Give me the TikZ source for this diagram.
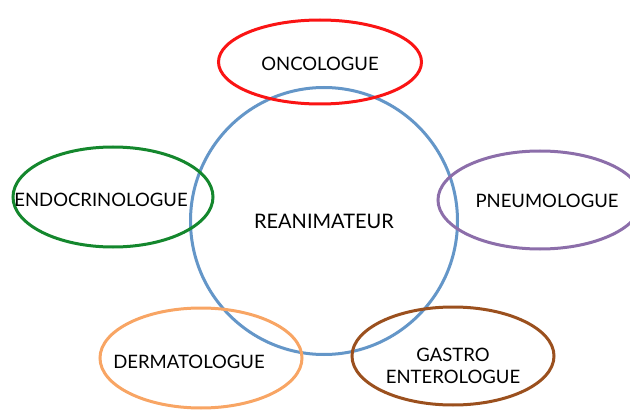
\documentclass[tikz,border=0pt]{standalone}
\usepackage{fontspec}
\setmainfont{Lato}
\usetikzlibrary{positioning,shapes.geometric}

\definecolor{reablue}{RGB}{100,150,200}
\definecolor{oncored}{RGB}{250,20,20}
\definecolor{endogreen}{RGB}{20,135,45}
\definecolor{pneupurple}{RGB}{140,110,170}
\definecolor{dermorange}{RGB}{248,165,100}
\definecolor{gastrobrown}{RGB}{155,80,30}

\begin{document}
\begin{tikzpicture}[
  x=1pt,y=-1pt,
  spec/.style={draw,ellipse,line width=3pt,minimum width=200pt,minimum height=100pt,
    inner sep=0pt},
  spectext/.style={font=\fontsize{18.5}{22}\selectfont,align=center}
]
\useasboundingbox (0,0) rectangle (630,412);
\node[draw=reablue,circle,line width=3pt,minimum size=267pt,inner sep=0pt,
  font=\fontsize{20}{24}\selectfont] (rea) at (324,221) {REANIMATEUR};
\node[spec,draw=oncored,minimum height=84pt,minimum width=203pt,
  label={[spectext,yshift=-2pt]center:ONCOLOGUE}] (onco) at (320,62) {};
\node[spec,draw=endogreen,minimum height=100pt,
  label={[spectext,xshift=-12pt,yshift=-3pt]center:ENDOCRINOLOGUE}] (endo) at (113,197) {};
\node[spec,draw=pneupurple,minimum height=98pt,minimum width=204pt,
  label={[spectext,xshift=7pt,yshift=-1pt]center:PNEUMOLOGUE}] (pneu) at (540,200) {};
\node[spec,draw=dermorange,minimum height=100pt,minimum width=202pt,
  label={[spectext,xshift=-12pt,yshift=-4pt]center:DERMATOLOGUE}] (derm) at (201,358) {};
\node[spec,draw=gastrobrown,minimum height=98pt,minimum width=202pt,
  label={[spectext,yshift=-10pt]center:GASTRO\\ENTEROLOGUE}] (gastro) at (453,356) {};
\end{tikzpicture}
\end{document}
